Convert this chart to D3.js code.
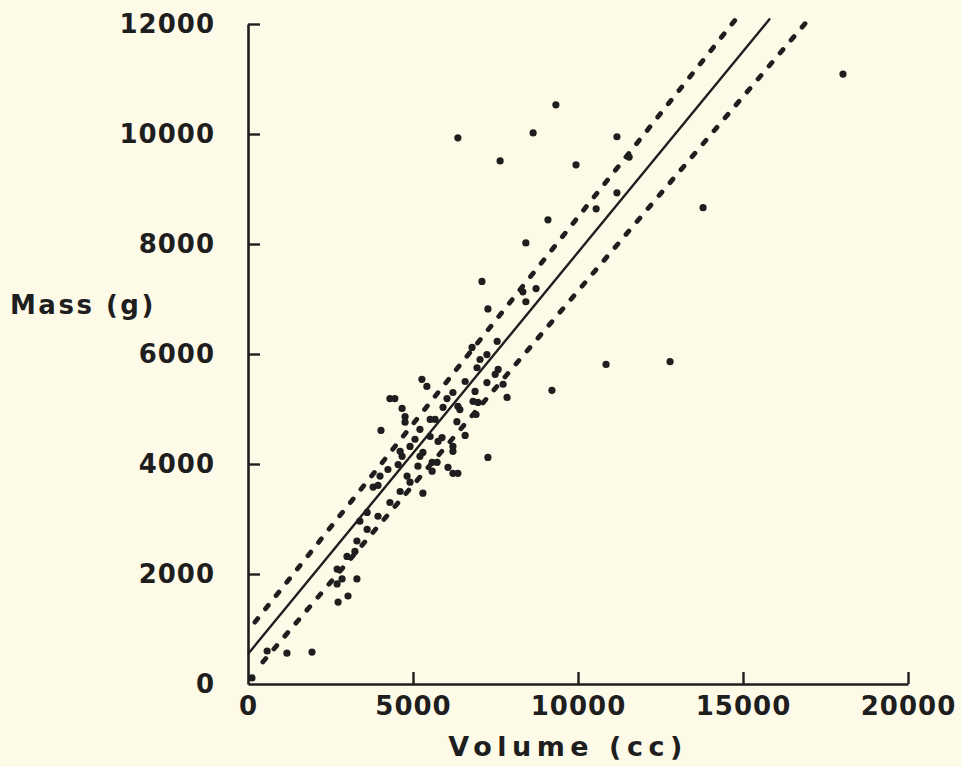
<!DOCTYPE html>
<html>
<head>
<meta charset="utf-8">
<script src="https://cdn.jsdelivr.net/npm/d3@7"></script>
<style>
  html, body { margin: 0; padding: 0; background: #fdfae8; }
  svg { display: block; }
  text { font-family: "DejaVu Sans", sans-serif; font-weight: bold; fill: #1e1e1e; }
</style>
</head>
<body>
<svg id="chart" width="961" height="767"></svg>
<script>
// ------------------- Data -------------------
const volume = [120, 580, 1180, 1940, 2730, 3030, 3300, 2850, 2700, 2700, 3000, 3240, 3300, 3610, 3390,
  3940, 3610, 4300, 4610, 3790, 3940, 4000, 4240, 4820, 4910, 4550, 5150, 5210, 4670, 4610, 4910, 5060,
  5300, 5760, 5210, 5520, 5670, 5520, 4760, 4760, 4670, 4300, 4450, 5270, 5420, 4030, 5910, 6030, 6210,
  6360, 6330, 5880, 6210, 6210, 6060, 5580, 5730, 5580, 5300, 6210, 6360, 6580, 7270, 6910, 6970, 7730,
  7850, 7240, 6580, 6880, 6420, 6820, 7550, 7240, 7030, 6940, 7580, 7490, 6790, 7270, 7090, 8330, 8730,
  8420, 8420, 9090, 7640, 6360, 8640, 9330, 9940, 11180, 11550, 10550, 11180, 9210, 10850, 12790, 13790, 18030];
const mass = [110, 600, 560, 580, 1490, 1600, 1910, 1910, 1820, 2090, 2320, 2410, 2600, 2810, 2960,
  3050, 3120, 3300, 3500, 3580, 3610, 3780, 3900, 3780, 3670, 3990, 3960, 4140, 4140, 4230, 4320, 4450,
  4210, 4410, 4630, 4810, 4810, 4500, 4760, 4860, 5010, 5190, 5190, 5540, 5410, 4610, 5030, 5190, 5300,
  5050, 4770, 4480, 4320, 4230, 3940, 4030, 4030, 3870, 3470, 3830, 3830, 4520, 4120, 4900, 5120, 5450,
  5210, 5480, 5500, 5320, 4990, 5140, 6230, 5990, 5900, 5750, 5720, 5630, 6120, 6820, 7320, 7130, 7190,
  6950, 8020, 8440, 9510, 9930, 10020, 10530, 9440, 9950, 9580, 8640, 8930, 5340, 5810, 5860, 8660, 11090];

// regression line and its two bounds (end points)
const fitX = [0, 15820];
const fitY = [545, 12100];
const upperX = [210, 14760];
const upperY = [1125, 12070];
const lowerX = [450, 16970];
const lowerY = [400, 12070];

const xTicks = [0, 5000, 10000, 15000, 20000];
const yTicks = [0, 2000, 4000, 6000, 8000, 10000, 12000];

// ------------------- Setup -------------------
const svg = d3.select("#chart");
const x = d3.scaleLinear().domain([0, 20000]).range([248, 908]);
const y = d3.scaleLinear().domain([0, 12000]).range([684, 24]);

// ------------------- Axes -------------------
const xAxis = svg.append("g")
  .attr("transform", `translate(0, ${y(0)})`)
  .call(d3.axisBottom(x).tickValues(xTicks).tickFormat(d3.format("d"))
    .tickSizeInner(-12).tickSizeOuter(0).tickPadding(13));

const yAxis = svg.append("g")
  .attr("transform", `translate(${x(0)}, 0)`)
  .call(d3.axisLeft(y).tickValues(yTicks).tickFormat(d3.format("d"))
    .tickSizeInner(-12).tickSizeOuter(0).tickPadding(33));

[xAxis, yAxis].forEach(a => {
  a.select(".domain").attr("stroke", "#1e1e1e").attr("stroke-width", 2.6);
  a.selectAll(".tick line").attr("stroke", "#1e1e1e").attr("stroke-width", 2.4);
  a.selectAll(".tick text")
    .attr("font-size", 26)
    .attr("letter-spacing", 1)
    .attr("fill", "#1e1e1e")
    .attr("font-family", "DejaVu Sans, sans-serif");
});
yAxis.selectAll(".tick").filter(d => d === 0).select("line").remove();
xAxis.selectAll(".tick").filter(d => d === 0).select("line").remove();

// ------------------- Axis titles -------------------
svg.append("text")
  .attr("x", 10).attr("y", 314)
  .attr("font-size", 26)
  .attr("letter-spacing", 2.5)
  .text("Mass (g)");

svg.append("text")
  .attr("x", 568).attr("y", 756)
  .attr("text-anchor", "middle")
  .attr("font-size", 27)
  .attr("letter-spacing", 5.5)
  .text("Volume (cc)");

// ------------------- Lines -------------------
const line = d3.line().x(d => x(d[0])).y(d => y(d[1]));

svg.append("path")
  .datum(d3.zip(fitX, fitY))
  .attr("d", line)
  .attr("fill", "none")
  .attr("stroke", "#1e1e1e")
  .attr("stroke-width", 2.4);

[[upperX, upperY], [lowerX, lowerY]].forEach(([bx, by]) => {
  svg.append("path")
    .datum(d3.zip(bx, by))
    .attr("d", line)
    .attr("fill", "none")
    .attr("stroke", "#1e1e1e")
    .attr("stroke-width", 4.8)
    .attr("stroke-linecap", "round")
    .attr("stroke-dasharray", "4.5,12.5");
});

// ------------------- Points -------------------
svg.append("g")
  .selectAll("circle")
  .data(d3.zip(volume, mass))
  .join("circle")
    .attr("cx", d => x(d[0]))
    .attr("cy", d => y(d[1]))
    .attr("r", 3.6)
    .attr("fill", "#1e1e1e");
</script>
</body>
</html>
